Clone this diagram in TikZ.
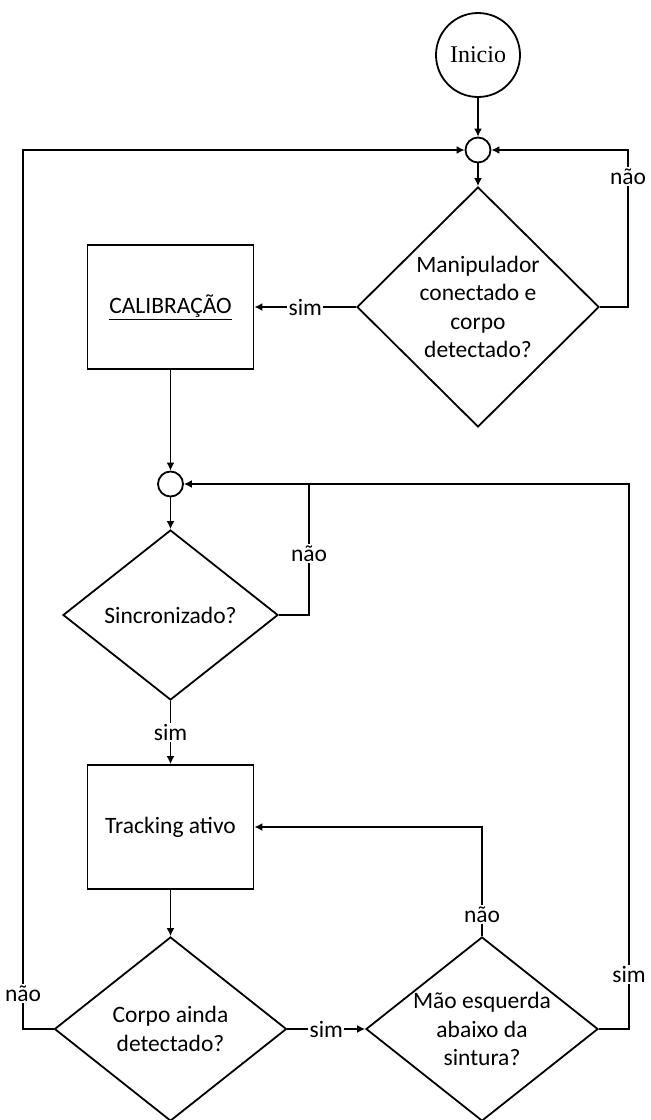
\documentclass[tikz,border=0pt]{standalone}
\usepackage{fontspec}
\setmainfont{Carlito}
\newfontfamily\seriffont{Liberation Serif}
\usetikzlibrary{shapes.geometric,arrows.meta}

\tikzset{
  decision/.style={diamond, draw, line width=1.8pt, inner sep=0pt, align=center},
  process/.style={rectangle, draw, line width=1.8pt, minimum width=166pt, minimum height=124pt, align=center},
  junction/.style={circle, draw, line width=1.8pt, minimum size=25pt, inner sep=0pt},
  flow/.style={line width=1.8pt, -{Latex[length=8pt,width=8pt]}},
  wire/.style={line width=1.8pt},
  lbl/.style={fill=white, inner sep=1.5pt},
}

\begin{document}
\begin{tikzpicture}[x=1pt, y=-1pt, every node/.style={font=\fontsize{23.5}{28.3}\selectfont}]
        \useasboundingbox (0,0) rectangle (651,1120);

        % Start and first decision
        \node[circle, draw, line width=1.8pt, minimum size=84pt, inner sep=0pt,
              font=\seriffont\fontsize{24}{28}\selectfont] (inicio) at (478,55) {Inicio};
        \node[junction] (j1) at (478,150) {};
        \node[decision, aspect=1, minimum width=242pt, minimum height=240pt] (conectado) at (478,307)
             {Manipulador\\conectado e\\corpo\\detectado?};
        \node[process] (calib) at (170.5,307) {\underline{CALIBRAÇÃO}};

        % Synchronisation
        \node[junction] (j2) at (170.5,484) {};
        \node[decision, aspect=1.26, minimum width=215pt, minimum height=170pt] (sinc) at (170.5,615) {Sincronizado?};
        \node[process] (track) at (170.5,827) {Tracking ativo};

        % Bottom decisions
        \node[decision, aspect=1.26, minimum width=232pt, minimum height=184pt] (corpo) at (170.5,1029)
             {Corpo ainda\\detectado?};
        \node[decision, aspect=1.26, minimum width=232pt, minimum height=184pt] (mao) at (482,1029)
             {Mão esquerda\\abaixo da\\sintura?};

        % Corners of the loops
        \coordinate (c1) at (628,307);
        \coordinate (c1t) at (628,150);
        \coordinate (c2) at (23,1029);
        \coordinate (c2t) at (23,150);
        \coordinate (c3) at (309,615);
        \coordinate (c3t) at (309,484);
        \coordinate (c4) at (629,1029);
        \coordinate (c4t) at (629,484);
        \coordinate (c5) at (482,827);

        % Arrows
        \draw[flow] (inicio) -- (j1);
        \draw[flow] (j1) -- (conectado.north);
        \draw[flow] (conectado.west) -- node[lbl] {sim} (calib.east);
        \draw[flow] (conectado.east) -- (c1) -- node[lbl, pos=0.83] {não} (c1t) -- (j1.east);
        \draw[flow] (corpo.west) -- (c2) -- node[lbl, pos=0.04] {não} (c2t) -- (j1.west);
        \draw[flow] (calib.south) -- (j2.north);
        \draw[flow] (j2.south) -- (sinc.north);
        \draw[wire] (sinc.east) -- (c3) -- node[lbl, pos=0.47] {não} (c3t);
        \draw[flow] (mao.east) -- (c4) -- node[lbl, pos=0.1] {sim} (c4t) -- (j2.east);
        \draw[flow] (sinc.south) -- node[lbl] {sim} (track.north);
        \draw[flow] (track.south) -- (corpo.north);
        \draw[flow] (corpo.east) -- node[lbl] {sim} (mao.west);
        \draw[flow] (mao.north) -- node[lbl, pos=0.2] {não} (c5) -- (track.east);

    \end{tikzpicture}
\end{document}
